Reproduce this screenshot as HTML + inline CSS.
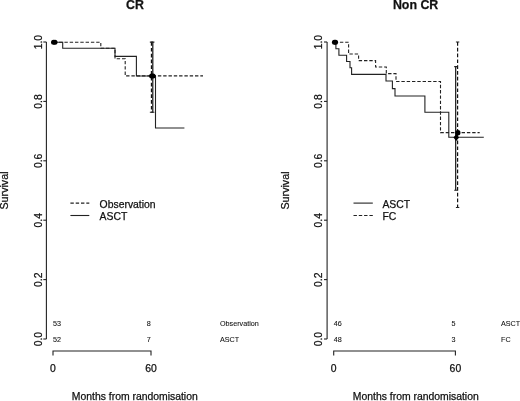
<!DOCTYPE html>
<html><head><meta charset="utf-8"><title>Survival</title>
<style>
html,body{margin:0;padding:0;background:#fff;}
body{width:520px;height:401px;overflow:hidden;font-family:"Liberation Sans",sans-serif;}
svg{display:block;will-change:transform;}
svg path{fill:none;stroke:#222;stroke-width:1.1;}
svg path.e{stroke-width:1.2;stroke:#111;}
svg path.d{fill:#000;stroke:none;}
svg circle{fill:#000;stroke:none;}
svg text{font-family:"Liberation Sans",sans-serif;fill:#111;stroke:#111;stroke-width:0.25px;}
.t{font-size:10.4px;}
.s{font-size:7.2px;stroke-width:0.08px;}
.b{font-size:12.4px;font-weight:bold;}
</style></head>
<body>
<svg width="520" height="401" viewBox="0 0 520 401">
<rect x="0" y="0" width="520" height="401" fill="#fff"/>
<path d="M46.4,42 V339" />
<path d="M43.3,42 H46.4" />
<text class="t" transform="translate(41.5,42.1) rotate(-90)" text-anchor="middle">1.0</text>
<path d="M43.3,101.4 H46.4" />
<text class="t" transform="translate(41.5,101.5) rotate(-90)" text-anchor="middle">0.8</text>
<path d="M43.3,160.8 H46.4" />
<text class="t" transform="translate(41.5,160.9) rotate(-90)" text-anchor="middle">0.6</text>
<path d="M43.3,220.2 H46.4" />
<text class="t" transform="translate(41.5,220.3) rotate(-90)" text-anchor="middle">0.4</text>
<path d="M43.3,279.6 H46.4" />
<text class="t" transform="translate(41.5,279.7) rotate(-90)" text-anchor="middle">0.2</text>
<path d="M43.3,339 H46.4" />
<text class="t" transform="translate(41.5,339.1) rotate(-90)" text-anchor="middle">0.0</text>
<path d="M53,355.4 V351 H151 V355.4" />
<text class="t" x="53" y="371.8" text-anchor="middle">0</text>
<text class="t" x="151" y="371.8" text-anchor="middle">60</text>
<text class="t" x="134.8" y="400.4" text-anchor="middle">Months from randomisation</text>
<text class="t" transform="translate(8.2,190.5) rotate(-90) scale(1.03,1)" text-anchor="middle">Survival</text>
<text class="b" x="135" y="8.8" text-anchor="middle">CR</text>
<path d="M53.8,42.2 H62.7 V48.2 H115 V56.4 H136.4 V76 H155.5 V128 H184.4" />
<path d="M53.8,42.2 H100.8 V48.3 H115 V58.8 H125.2 V75.9 H203" stroke-dasharray="3.4 1.9" />
<path d="M70.4,203.1 H89.3" stroke-dasharray="3.4 1.9" />
<path d="M70.4,215.5 H89.3" />
<text class="t" x="99.6" y="208.4">Observation</text>
<text class="t" x="99.6" y="220.4">ASCT</text>
<text class="s" x="53" y="325.8">53</text>
<text class="s" x="53" y="342">52</text>
<text class="s" x="150.8" y="325.8" text-anchor="end">8</text>
<text class="s" x="150.8" y="342" text-anchor="end">7</text>
<text class="s" x="220" y="325.8">Observation</text>
<text class="s" x="220" y="342">ASCT</text>
<path class="e" d="M151.45,42.1 V112.2" stroke-dasharray="3.7 2.1" />
<path d="M149.85,42.1 H153.05 M149.85,112.2 H153.05" />
<path class="e" d="M152.8,42.1 V112.2" />
<path d="M151.2,42.1 H154.4 M151.2,112.2 H154.4" />
<circle cx="53.5" cy="42.35" r="2.5"/>
<circle cx="55" cy="42.35" r="2.5"/>
<circle cx="151.6" cy="76" r="2.5"/>
<circle cx="153.1" cy="76" r="2.5"/>
<path d="M327.1,42 V339" />
<path d="M324.0,42 H327.1" />
<text class="t" transform="translate(322.2,42.1) rotate(-90)" text-anchor="middle">1.0</text>
<path d="M324.0,101.4 H327.1" />
<text class="t" transform="translate(322.2,101.5) rotate(-90)" text-anchor="middle">0.8</text>
<path d="M324.0,160.8 H327.1" />
<text class="t" transform="translate(322.2,160.9) rotate(-90)" text-anchor="middle">0.6</text>
<path d="M324.0,220.2 H327.1" />
<text class="t" transform="translate(322.2,220.3) rotate(-90)" text-anchor="middle">0.4</text>
<path d="M324.0,279.6 H327.1" />
<text class="t" transform="translate(322.2,279.7) rotate(-90)" text-anchor="middle">0.2</text>
<path d="M324.0,339 H327.1" />
<text class="t" transform="translate(322.2,339.1) rotate(-90)" text-anchor="middle">0.0</text>
<path d="M333.7,355.4 V351 H455.4 V355.4" />
<text class="t" x="333.7" y="371.8" text-anchor="middle">0</text>
<text class="t" x="455.4" y="371.8" text-anchor="middle">60</text>
<text class="t" x="415.8" y="400.4" text-anchor="middle">Months from randomisation</text>
<text class="t" transform="translate(288.9,190.5) rotate(-90) scale(1.03,1)" text-anchor="middle">Survival</text>
<text class="b" x="415.6" y="8.8" text-anchor="middle">Non CR</text>
<path d="M334.6,42.3 H335.9 V48.8 H338.9 V55.2 H346.6 V61.5 H350 V67.8 H351.6 V74.4 H386 V81 H392.4 V88.6 H395 V96 H424.9 V112.2 H448.8 V137.2 H483.8" />
<path d="M334.6,42.3 H348.6 V54 H358.6 V60.6 H375.6 V67 H386.3 V73.6 H396 V81.5 H440.5 V132.6 H479.7" stroke-dasharray="3.4 1.9" />
<path d="M353.5,215.5 H372.8" stroke-dasharray="3.4 1.9" />
<path d="M353.5,203.1 H372.8" />
<text class="t" x="382.4" y="208.4">ASCT</text>
<text class="t" x="382.4" y="220.4">FC</text>
<text class="s" x="333.7" y="325.8">46</text>
<text class="s" x="333.7" y="342">48</text>
<text class="s" x="455.6" y="325.8" text-anchor="end">5</text>
<text class="s" x="455.6" y="342" text-anchor="end">3</text>
<text class="s" x="501" y="325.8">ASCT</text>
<text class="s" x="501" y="342">FC</text>
<path class="e" d="M457.6,42 V207.5" stroke-dasharray="3.7 2.1" />
<path d="M455.9,42 H459.3 M455.9,207.5 H459.3" />
<path class="e" d="M455.7,66.6 V190.2" />
<path d="M454.2,66.6 H457.2 M454.2,190.2 H457.2" />
<circle cx="334.4" cy="42.3" r="2.5"/>
<circle cx="335.6" cy="42.3" r="2.5"/>
<circle cx="457.9" cy="132.7" r="2.6"/>
<path class="d" d="M456.2,134.3 L459,137.6 L456.2,140.9 L453.4,137.6 Z"/>
</svg>
</body></html>
